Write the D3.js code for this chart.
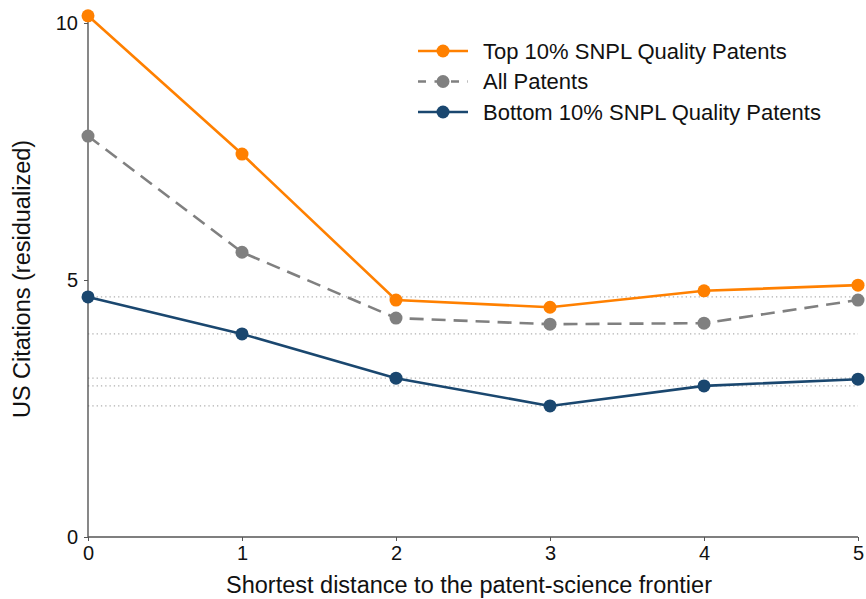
<!DOCTYPE html>
<html><head><meta charset="utf-8">
<script src="https://cdn.jsdelivr.net/npm/d3@7"></script>
<style>body{margin:0;background:#fff}svg{display:block;font-family:"Liberation Sans",Arial,sans-serif}</style>
</head><body><svg id="c" width="866" height="599"></svg>
<script>
const distances = [0, 1, 2, 3, 4, 5];
const topSeries = [10.14, 7.45, 4.61, 4.47, 4.79, 4.90];
const allSeries = [7.80, 5.54, 4.26, 4.14, 4.16, 4.61];
const bottomSeries = [4.67, 3.95, 3.09, 2.55, 2.94, 3.07];
const refLines = [4.67, 3.95, 3.09, 2.94, 2.55];
const yTicks = [0, 5, 10];
const xTicks = [0, 1, 2, 3, 4, 5];
const seriesNames = ["Top 10% SNPL Quality Patents", "All Patents", "Bottom 10% SNPL Quality Patents"];

const svg = d3.select("#c");
const x = d3.scaleLinear().domain([0, 5]).range([88, 858]);
const y = d3.scaleLinear().domain([0, 10]).range([537, 23]);

// reference dotted lines
svg.append("g").selectAll("line").data(refLines).join("line")
  .attr("x1", x(0)).attr("x2", x(5))
  .attr("y1", d => y(d)).attr("y2", d => y(d))
  .attr("stroke", "#b0b0b0").attr("stroke-width", 1.2)
  .attr("stroke-dasharray", "1.3,3");

// axes
const yAxis = d3.axisLeft(y).tickValues(yTicks).tickSize(4).tickPadding(6);
const gy = svg.append("g").attr("transform", `translate(${x(0)},0)`).call(yAxis);
gy.select(".domain").remove();
gy.append("line").attr("x1", 0).attr("x2", 0).attr("y1", y(0)).attr("y2", y(d3.max(topSeries)))
  .attr("stroke", "#555").attr("stroke-width", 1.4);
gy.selectAll(".tick line").attr("stroke", "#555");
gy.selectAll(".tick text").attr("font-size", 20).attr("fill", "#111").attr("font-family", "Liberation Sans, Arial, sans-serif");

const xAxis = d3.axisBottom(x).tickValues(xTicks).tickSize(4).tickPadding(5).tickFormat(d3.format("d"));
const gx = svg.append("g").attr("transform", `translate(0,${y(0)})`).call(xAxis);
gx.select(".domain").attr("stroke", "#555").attr("stroke-width", 1.4).attr("d", `M${x(0)},0H${x(5)}`);
gx.selectAll(".tick line").attr("stroke", "#555");
gx.selectAll(".tick text").attr("font-size", 20).attr("fill", "#111").attr("font-family", "Liberation Sans, Arial, sans-serif");

// titles
svg.append("text").attr("x", 469).attr("y", 593).attr("text-anchor", "middle")
  .attr("font-size", 23.5).attr("fill", "#111").text("Shortest distance to the patent-science frontier");
svg.append("text").attr("transform", `translate(30,279) rotate(-90)`).attr("text-anchor", "middle")
  .attr("font-size", 23.5).attr("fill", "#111").text("US Citations (residualized)");

const series = [
  {name: seriesNames[0], values: topSeries, color: "#ff8000", dash: null},
  {name: seriesNames[1], values: allSeries, color: "#808080", dash: "14,8"},
  {name: seriesNames[2], values: bottomSeries, color: "#1a476f", dash: null}
];
const line = d3.line().x((d, i) => x(distances[i])).y(d => y(d));
[series[1], series[2], series[0]].forEach(s => {
  svg.append("path").attr("d", line(s.values)).attr("fill", "none")
    .attr("stroke", s.color).attr("stroke-width", 2.6)
    .attr("stroke-dasharray", s.dash);
  svg.append("g").selectAll("circle").data(s.values).join("circle")
    .attr("cx", (d, i) => x(distances[i])).attr("cy", d => y(d)).attr("r", 6.5)
    .attr("fill", s.color);
});

// legend
const lg = svg.append("g");
series.forEach((s, i) => {
  const yy = 51 + i * 30.5;
  lg.append("line").attr("x1", 418).attr("x2", 468).attr("y1", yy).attr("y2", yy)
    .attr("stroke", s.color).attr("stroke-width", 2.6).attr("stroke-dasharray", s.dash ? "8,8.5" : null);
  lg.append("circle").attr("cx", 443).attr("cy", yy).attr("r", 6.5).attr("fill", s.color);
  lg.append("text").attr("x", 483).attr("y", yy).attr("dy", "0.35em").attr("font-size", 22)
    .attr("fill", "#111").text(s.name);
});
</script></body></html>
